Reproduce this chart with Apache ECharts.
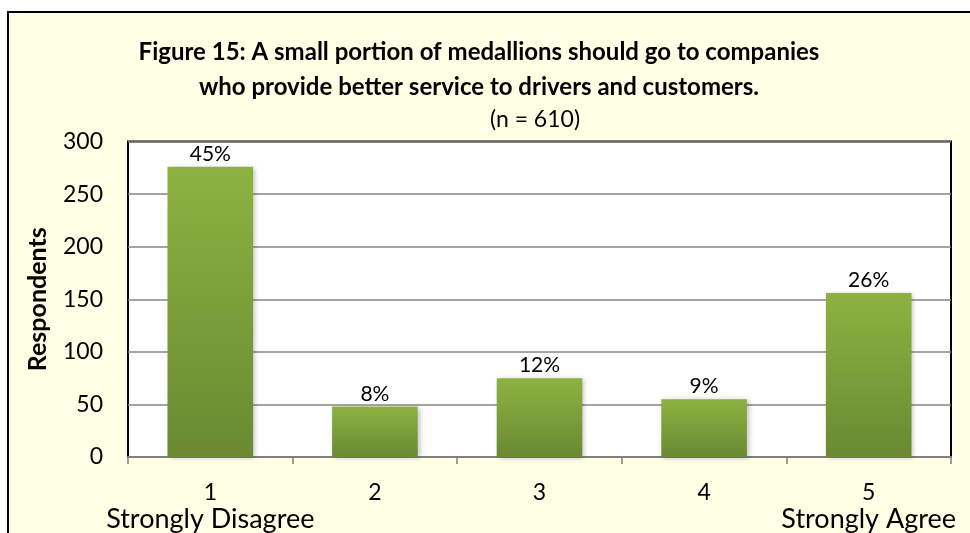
<!DOCTYPE html>
<html>
<head>
<meta charset="utf-8">
<script src="https://cdn.jsdelivr.net/npm/echarts@6/dist/echarts.min.js"></script>
<style>
html,body{margin:0;padding:0;background:#ffffff;}
#chart{width:970px;height:533px;}
</style>
</head>
<body>
<div id="chart"></div>
<script>
var categories = ['1', '2', '3', '4', '5'];
var subLabels = ['Strongly Disagree', '', '', '', 'Strongly Agree'];
var respondents = [276, 48, 75, 55, 156];
var percents = ['45%', '8%', '12%', '9%', '26%'];
var yTicks = [0, 50, 100, 150, 200, 250, 300];

var chart = echarts.init(document.getElementById('chart'));
var FONT = 'Lato';

var option = {
  backgroundColor: '#ffffff',
  animation: false,
  graphic: [{
    type: 'rect',
    z: -10,
    silent: true,
    shape: { x: 8, y: 12, width: 980, height: 540 },
    style: { fill: '#FFFFE6', stroke: '#000000', lineWidth: 2 }
  }],
  title: [{
    text: 'Figure 15: A small portion of medallions should go to companies\nwho provide better service to drivers and customers.',
    left: 474,
    top: 30,
    textAlign: 'center',
    textStyle: { fontFamily: FONT, fontWeight: 'bold', fontSize: 24, lineHeight: 35, color: '#000000' }
  }, {
    text: '(n = 610)',
    left: 530,
    top: 101,
    textAlign: 'center',
    textStyle: { fontFamily: FONT, fontWeight: 'normal', fontSize: 23, lineHeight: 28, color: '#000000' }
  }],
  grid: {
    left: 128, right: 19, top: 141.5, bottom: 75,
    show: true,
    backgroundColor: '#ffffff',
    borderColor: '#000000',
    borderWidth: 2
  },
  xAxis: {
    type: 'category',
    data: categories,
    axisLine: { show: true, lineStyle: { color: '#808080', width: 2 } },
    axisTick: { show: true, length: 7, lineStyle: { color: '#808080', width: 1.5 } },
    axisLabel: {
      interval: 0,
      margin: 22,
      color: '#000000',
      formatter: function (v, i) {
        return '{a|' + v + '}\n{b|' + (subLabels[i] || ' ') + '}';
      },
      rich: {
        a: { fontFamily: FONT, fontSize: 23, lineHeight: 27, color: '#000000' },
        b: { fontFamily: FONT, fontSize: 27, lineHeight: 27, color: '#000000' }
      }
    }
  },
  yAxis: {
    type: 'value',
    min: yTicks[0],
    max: yTicks[yTicks.length - 1],
    interval: 50,
    name: 'Respondents',
    nameLocation: 'middle',
    nameRotate: 90,
    nameGap: 78,
    nameTextStyle: { fontFamily: FONT, fontWeight: 'bold', fontSize: 25, color: '#000000' },
    axisLine: { show: false },
    axisTick: { show: false },
    axisLabel: { fontFamily: FONT, fontSize: 23, color: '#000000', margin: 25 },
    splitLine: { show: true, lineStyle: { color: '#868686', width: 1.5 } }
  },
  series: [{
    type: 'bar',
    data: respondents,
    barWidth: '52%',
    itemStyle: {
      color: {
        type: 'linear', x: 0, y: 0, x2: 0, y2: 1,
        colorStops: [
          { offset: 0, color: '#8DB241' },
          { offset: 1, color: '#6A8932' }
        ]
      },
      shadowColor: 'rgba(0,0,0,0.25)',
      shadowBlur: 5,
      shadowOffsetX: 2,
      shadowOffsetY: 1
    },
    label: {
      show: true,
      position: 'top',
      distance: 2,
      fontFamily: FONT,
      fontSize: 21,
      color: '#000000',
      formatter: function (p) { return percents[p.dataIndex]; }
    }
  }]
};
chart.setOption(option);
</script>
</body>
</html>
